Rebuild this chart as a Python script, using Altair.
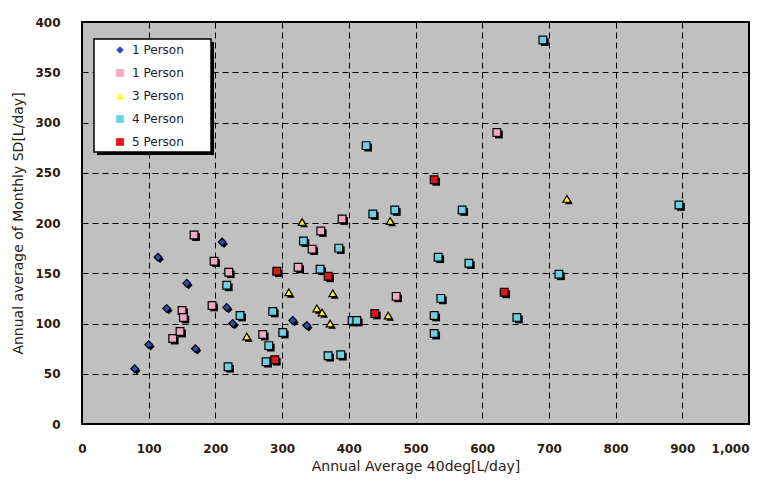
import altair as alt
import pandas as pd

# ---- data ----
CATS = ["p1", "p2", "p3", "p4", "p5"]
LEGEND_LABELS = ["1 Person", "1 Person", "3 Person", "4 Person", "5 Person"]

p1_x = [79, 100, 114, 127, 157, 170, 210, 217, 226, 316, 337]
p1_y = [55, 79, 166, 115, 140, 75, 181, 116, 100, 103, 98]

p2_x = [136, 147, 150, 152, 168, 195, 198, 220, 271, 324, 345, 358, 390, 471, 622]
p2_y = [85, 92, 113, 106, 188, 118, 162, 151, 89, 156, 174, 192, 204, 127, 290]

p3_x = [247, 310, 330, 352, 360, 372, 376, 459, 462, 727]
p3_y = [87, 131, 201, 115, 111, 100, 130, 108, 202, 224]

p4_x = [217, 219, 237, 276, 280, 286, 301, 332, 357, 369, 385, 388, 405, 412,
        426, 436, 469, 528, 528, 534, 538, 570, 580, 652, 691, 715, 895]
p4_y = [138, 57, 108, 62, 78, 112, 91, 182, 154, 68, 175, 69, 103, 103,
        277, 209, 213, 108, 90, 166, 125, 213, 160, 106, 382, 149, 218]

p5_x = [289, 292, 369, 439, 528, 633]
p5_y = [64, 152, 147, 110, 243, 131]

X_TICKS = list(range(0, 1001, 100))
Y_TICKS = list(range(0, 401, 50))
X_TITLE = "Annual Average 40deg[L/day]"
Y_TITLE = "Annual average of Monthly SD[L/day]"

COLORS = ["#2a50b4", "#f5a6c6", "#ffff00", "#66d2e6", "#f01010"]
SHAPES = ["diamond", "square", "triangle-up", "square", "square"]

rows = []
for cat, xs, ys in zip(CATS, [p1_x, p2_x, p3_x, p4_x, p5_x], [p1_y, p2_y, p3_y, p4_y, p5_y]):
    for xv, yv in zip(xs, ys):
        rows.append({"cat": cat, "x": xv, "y": yv})
df = pd.DataFrame(rows)

label_expr = "''"
for c, l in reversed(list(zip(CATS, LEGEND_LABELS))):
    label_expr = f"datum.value == '{c}' ? '{l}' : ({label_expr})"

FONT = "DejaVu Sans"
TXT = "#2a2010"

x_scale = alt.Scale(domain=[0, 1000], nice=False, zero=True)
y_scale = alt.Scale(domain=[0, 400], nice=False, zero=True)

x_axis = alt.Axis(title=X_TITLE, values=X_TICKS, format=",d", grid=True, ticks=False,
                  domain=False, labelPadding=19, titlePadding=5, labelFlush=False,
                  labelAlign={"condition": {"test": "datum.value == 1000", "value": "right"},
                              "value": "center"})
y_axis = alt.Axis(title=Y_TITLE, values=Y_TICKS, grid=True, ticks=False,
                  domain=False, labelPadding=22, titlePadding=9)

shape_scale = alt.Scale(domain=CATS, range=SHAPES)
fill_scale = alt.Scale(domain=CATS, range=COLORS)

legend = alt.Legend(title=None, orient="none", legendX=32, legendY=22, labelExpr=label_expr,
                    rowPadding=9, padding=0, labelOffset=6, symbolSize=60)

base = alt.Chart(df)

shadow = base.mark_point(filled=True, color="black", opacity=1, xOffset=2, yOffset=2, size=60).encode(
    x=alt.X("x:Q", scale=x_scale, axis=x_axis),
    y=alt.Y("y:Q", scale=y_scale, axis=y_axis),
    shape=alt.Shape("cat:N", scale=shape_scale, legend=legend),
)

points = base.mark_point(filled=True, opacity=1, stroke="black", strokeWidth=1.2, size=60).encode(
    x=alt.X("x:Q", scale=x_scale, axis=x_axis),
    y=alt.Y("y:Q", scale=y_scale, axis=y_axis),
    fill=alt.Fill("cat:N", scale=fill_scale, legend=legend),
    shape=alt.Shape("cat:N", scale=shape_scale, legend=legend),
)

one = pd.DataFrame({"a": [0]})
box_shadow = alt.Chart(one).mark_rect(color="black").encode(
    x=alt.value(15), x2=alt.value(132), y=alt.value(20), y2=alt.value(133))
box = alt.Chart(one).mark_rect(fill="white", stroke="black", strokeWidth=1.5).encode(
    x=alt.value(12), x2=alt.value(129), y=alt.value(17), y2=alt.value(130))

chart = alt.layer(box_shadow, box, shadow, points).properties(
    width=667, height=402,
    autosize=alt.AutoSizeParams(type="none"),
    padding={"left": 74, "top": 14, "right": 8, "bottom": 50},
    background="white",
).configure_view(
    fill="#c0c0c0", stroke="black", strokeWidth=2
).configure_axis(
    gridColor="black", gridDash=[6, 4], gridWidth=1, gridOpacity=1,
    labelFont=FONT, labelFontSize=12, labelFontWeight="bold", labelColor=TXT,
    titleFont=FONT, titleFontSize=14, titleColor=TXT, titleFontWeight="normal",
).configure_legend(
    labelFont=FONT, labelFontSize=12, labelColor="#1a1a3a",
)

chart.save("out.html", embed_options={"renderer": "svg", "actions": False})
